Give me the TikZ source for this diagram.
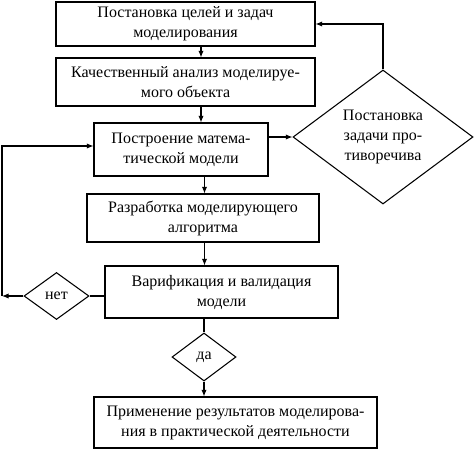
\documentclass[tikz,border=0pt]{standalone}
\usepackage{fontspec}
\setmainfont{Liberation Serif}
\usetikzlibrary{shapes.geometric,arrows.meta}

\tikzset{
  blk/.style={draw,rectangle,align=center,inner sep=0pt,line width=0.8pt,
    font=\fontsize{12}{15}\selectfont},
  dmd/.style={draw,diamond,align=center,inner sep=0pt,line width=0.8pt,
    font=\fontsize{12}{15}\selectfont},
  ln/.style={line width=0.8pt},
  arr/.style={line width=0.8pt,-{Latex[length=5pt,width=4pt]}}
}

\begin{document}
\begin{tikzpicture}[x=0.75pt,y=-0.75pt]
\useasboundingbox (0,0) rectangle (474,449);

% main chain of blocks
\node[blk,minimum width=194.25pt,minimum height=33pt] (goal) at (185.5,24)
  {Постановка целей и задач\\моделирования};
\node[blk,minimum width=194.25pt,minimum height=36pt] (anal) at (185.5,82)
  {Качественный анализ моделируе-\\мого объекта};
\node[blk,minimum width=130.5pt,minimum height=39.75pt] (math) at (181,149.5)
  {Построение матема-\\тической модели};
\node[blk,minimum width=174pt,minimum height=36pt] (algo) at (203,218)
  {Разработка моделирующего\\алгоритма};
\node[blk,minimum width=174.75pt,minimum height=39pt] (verif) at (221.5,292)
  {Варификация и валидация\\модели};
\node[blk,minimum width=212.25pt,minimum height=38.25pt] (appl) at (235.5,422.5)
  {Применение результатов моделирова-\\ния в практической деятельности};

% decisions
\node[dmd,minimum width=135pt,minimum height=100.5pt] (task) at (383,137)
  {Постановка\\задачи про-\\тиворечива};
\node[dmd,minimum width=48.75pt,minimum height=35.25pt] (no) at (56.5,296) {нет};
\node[dmd,minimum width=48pt,minimum height=36pt] (yes) at (204,357) {да};

\coordinate (xa) at (201,0);
\coordinate (xb) at (204.5,0);
\coordinate (lo) at (2,296);
\coordinate (hi) at (2,146);

% connectors
\draw[arr] (goal.south -| xa) -- (anal.north -| xa);
\draw[arr] (anal.south -| xa) -- (math.north -| xa);
\draw[arr] (math.south -| xb) -- (algo.north -| xb);
\draw[arr] (algo.south -| xb) -- (verif.north -| xb);
\draw[ln] (verif.south -| yes.north) -- (yes.north);
\draw[arr] (yes.south) -- (appl.north -| yes.south);
\draw[arr] (task.west -| math.east) -- (task.west);
\draw[arr] (task.north) |- (goal.east);
\draw[ln] (verif.west |- no.east) -- (no.east);
\draw[arr] (no.west) -- (lo);
\draw[arr] (lo) -- (hi) -- (hi -| math.west);
\end{tikzpicture}
\end{document}
